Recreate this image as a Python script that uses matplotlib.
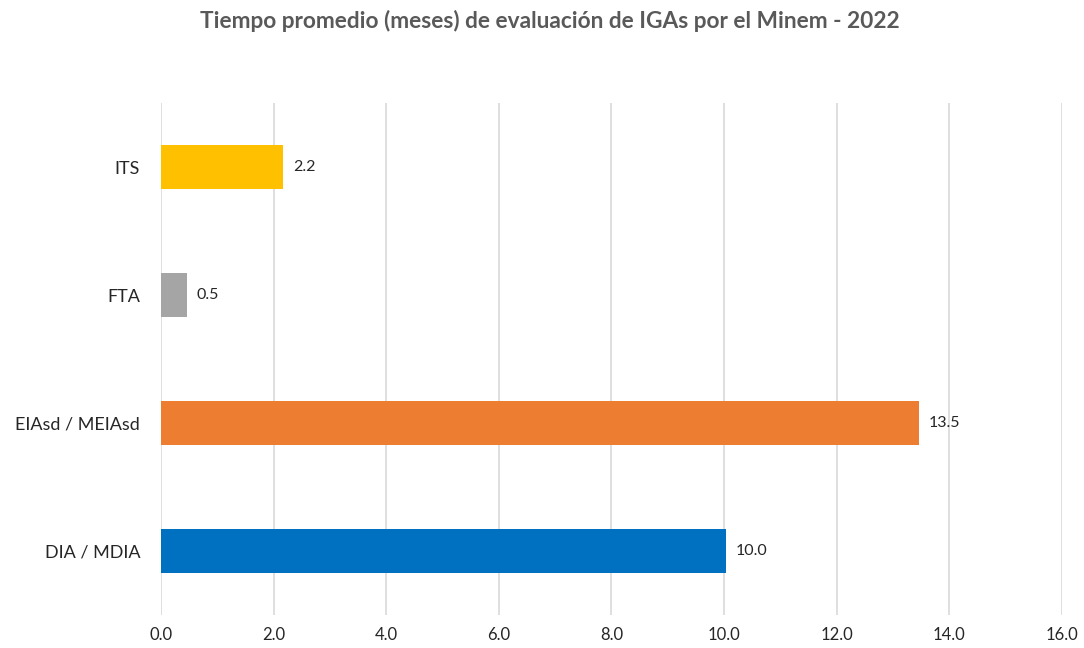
import matplotlib.pyplot as plt

# === DATOS ===
categorias = ["DIA / MDIA", "EIAsd / MEIAsd", "FTA", "ITS"]
meses = [10.03, 13.46, 0.46, 2.17]
colores = ["#0070C0", "#ED7D31", "#A5A5A5", "#FFC000"]
ticks_x = [0, 2, 4, 6, 8, 10, 12, 14, 16]

plt.rcParams["font.family"] = ["Lato", "DejaVu Sans"]

fig = plt.figure(figsize=(10.84, 6.48), dpi=100)
ax = fig.add_axes([0.1485, 0.051, 0.8312, 0.790])

ypos = range(len(categorias))
ax.barh(ypos, meses, height=0.35, color=colores, zorder=3)
for y, v in zip(ypos, meses):
    ax.text(v + 0.17, y, f"{v:.1f}", va="center", ha="left", fontsize=11.5, color="#262626")

ax.set_xlim(0, 16)
ax.set_ylim(-0.5, 3.5)
ax.set_xticks(ticks_x)
ax.set_xticklabels([f"{t:.1f}" for t in ticks_x], fontsize=12, color="#262626")
ax.set_yticks(list(ypos))
ax.set_yticklabels(categorias, fontsize=13, color="#262626")
ax.tick_params(length=0, pad=15, axis="y")
ax.tick_params(length=0, pad=9, axis="x")
ax.grid(axis="x", color="#D9D9D9", linewidth=1.2, zorder=0)
for s in ax.spines.values():
    s.set_visible(False)

fig.text(0.507, 0.968, "Tiempo promedio (meses) de evaluación de IGAs por el Minem - 2022",
         ha="center", va="center", fontsize=16.3, fontweight="bold", color="#595959")

fig.savefig("out.png", dpi=100, facecolor="white")
